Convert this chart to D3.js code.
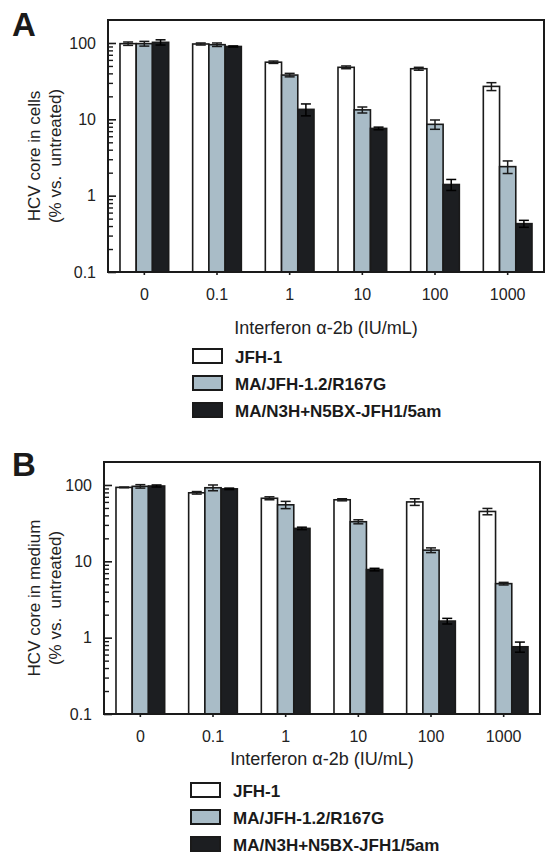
<!DOCTYPE html>
<html>
<head>
<meta charset="utf-8">
<script src="https://cdn.jsdelivr.net/npm/d3@7"></script>
<style>
  html, body { margin: 0; padding: 0; background: #fff; }
  svg { display: block; font-family: "Liberation Sans", Arial, Helvetica, sans-serif; }
</style>
</head>
<body>
<svg id="chart" width="547" height="856"></svg>
<script>
// ---------------- data ----------------
const categories = ["0", "0.1", "1", "10", "100", "1000"];
const seriesNames = ["JFH-1", "MA/JFH-1.2/R167G", "MA/N3H+N5BX-JFH1/5am"];
const yTickValues = [0.1, 1, 10, 100];
const xAxisTitle = "Interferon \u03B1-2b (IU/mL)";

// Panel A: HCV core in cells (% vs. untreated)
const cellsJFH1   = [98, 97, 56, 48, 46, 27];
const cellsR167G  = [98, 95, 38, 13.3, 8.6, 2.4];
const cells5am    = [102, 90, 13.5, 7.6, 1.4, 0.43];
const cellsErrJFH1  = [5, 3, 2, 2, 2, 3.2];
const cellsErrR167G = [7, 5, 2, 1.2, 1.2, 0.45];
const cellsErr5am   = [8, 1.5, 2.4, 0.3, 0.23, 0.045];

// Panel B: HCV core in medium (% vs. untreated)
const mediumJFH1   = [93, 79, 67, 64, 60, 45];
const mediumR167G  = [96, 92, 55, 33, 14, 5.1];
const medium5am    = [97, 89, 27, 7.8, 1.65, 0.76];
const mediumErrJFH1  = [1, 3, 3, 2, 6, 4.3];
const mediumErrR167G = [5, 8, 6, 2, 1, 0.2];
const mediumErr5am   = [3, 2, 1, 0.3, 0.14, 0.115];

const colors = ["#ffffff", "#a9bcc7", "#1c1e21"];

// ---------------- drawing ----------------
const svg = d3.select("#chart");

function drawPanel(opt) {
  const g = svg.append("g");
  const vals = [opt.v1, opt.v2, opt.v3];
  const errs = [opt.e1, opt.e2, opt.e3];

  const x0 = d3.scaleBand().domain(categories)
    .range([opt.left, opt.right]).paddingInner(0.33).paddingOuter(0.165);
  const x1 = d3.scaleBand().domain(seriesNames).range([0, x0.bandwidth()]);
  const y = d3.scaleLog().domain([0.1, 200]).range([opt.bottom, opt.top]);

  // bars
  seriesNames.forEach((s, si) => {
    const data = categories.map((c, ci) => ({c, v: vals[si][ci], e: errs[si][ci]}));
    g.selectAll(null).data(data).enter().append("rect")
      .attr("x", d => x0(d.c) + x1(s))
      .attr("y", d => y(d.v))
      .attr("width", x1.bandwidth())
      .attr("height", d => opt.bottom - y(d.v))
      .attr("fill", colors[si])
      .attr("stroke", "#1a1a1a")
      .attr("stroke-width", 1.6);
    // error bars
    const eg = g.selectAll(null).data(data).enter().append("g")
      .attr("stroke", si === 2 ? "#000" : "#1a1a1a")
      .attr("stroke-width", 1.5);
    const cx = d => x0(d.c) + x1(s) + x1.bandwidth() / 2;
    eg.append("line")
      .attr("x1", cx).attr("x2", cx)
      .attr("y1", d => y(Math.max(d.v - d.e, 0.1)))
      .attr("y2", d => y(d.v + d.e));
    eg.append("line")
      .attr("x1", d => cx(d) - 5).attr("x2", d => cx(d) + 5)
      .attr("y1", d => y(d.v + d.e)).attr("y2", d => y(d.v + d.e));
    eg.append("line")
      .attr("x1", d => cx(d) - 5).attr("x2", d => cx(d) + 5)
      .attr("y1", d => y(Math.max(d.v - d.e, 0.1))).attr("y2", d => y(Math.max(d.v - d.e, 0.1)));
  });

  // frame
  g.append("rect")
    .attr("x", opt.left).attr("y", opt.top)
    .attr("width", opt.right - opt.left).attr("height", opt.bottom - opt.top)
    .attr("fill", "none").attr("stroke", "#1a1a1a").attr("stroke-width", 2);

  // y axis major ticks (inward)
  const yAxis = d3.axisLeft(y).tickValues(yTickValues)
    .tickSizeInner(-8).tickSizeOuter(0).tickPadding(12)
    .tickFormat(d => d3.format("~g")(d));
  const ya = g.append("g").attr("transform", `translate(${opt.left},0)`).call(yAxis);
  ya.select(".domain").remove();
  ya.selectAll("line").attr("stroke", "#1a1a1a").attr("stroke-width", 1.6);
  ya.selectAll("text").attr("font-size", 16).attr("fill", "#222")
    .attr("font-family", '"Liberation Sans", Arial, sans-serif');

  // y axis minor ticks
  const minor = [];
  [0.1, 1, 10, 100].forEach(b => { for (let k = 2; k <= 9; k++) { if (b * k < 200) minor.push(b * k); } });
  const ym = g.append("g").attr("transform", `translate(${opt.left},0)`)
    .call(d3.axisLeft(y).tickValues(minor).tickSizeInner(-5).tickSizeOuter(0).tickFormat(""));
  ym.select(".domain").remove();
  ym.selectAll("line").attr("stroke", "#1a1a1a").attr("stroke-width", 1.4);

  // x axis ticks + labels
  const xAxis = d3.axisBottom(x0).tickSizeInner(3).tickSizeOuter(0).tickPadding(14);
  const xa = g.append("g").attr("transform", `translate(0,${opt.bottom})`).call(xAxis);
  xa.select(".domain").remove();
  xa.selectAll("line").attr("stroke", "#1a1a1a").attr("stroke-width", 1.6);
  xa.selectAll("text").attr("font-size", 16).attr("fill", "#222")
    .attr("font-family", '"Liberation Sans", Arial, sans-serif');

  // x title
  g.append("text")
    .attr("x", (opt.left + opt.right) / 2).attr("y", opt.xTitleY)
    .attr("text-anchor", "middle").attr("font-size", 18).attr("fill", "#222")
    .text(xAxisTitle);

  // y title (two lines)
  const cy = (opt.top + opt.bottom) / 2 + 10;
  g.append("text")
    .attr("transform", `translate(40,${cy}) rotate(-90)`)
    .attr("text-anchor", "middle").attr("font-size", 17).attr("fill", "#222")
    .text(opt.yTitle1);
  g.append("text")
    .attr("transform", `translate(61,${cy}) rotate(-90)`)
    .attr("text-anchor", "middle").attr("font-size", 17).attr("fill", "#222")
    .attr("xml:space", "preserve")
    .text(opt.yTitle2);

  // panel letter
  g.append("text")
    .attr("x", 12).attr("y", opt.letterY)
    .attr("font-size", 33).attr("font-weight", "bold").attr("fill", "#1a1a1a")
    .text(opt.letter);

  // legend
  const leg = g.append("g");
  seriesNames.forEach((s, i) => {
    const yy = opt.legendY + i * 27;
    leg.append("rect")
      .attr("x", opt.legendX).attr("y", yy)
      .attr("width", 29).attr("height", 14)
      .attr("fill", colors[i]).attr("stroke", "#1a1a1a").attr("stroke-width", 2);
    leg.append("text")
      .attr("x", opt.legendX + 42).attr("y", yy + 14)
      .attr("font-size", 17).attr("font-weight", "bold").attr("fill", "#1a1a1a")
      .text(s);
  });
}

drawPanel({
  letter: "A", letterY: 36,
  left: 108, right: 544, top: 20, bottom: 272,
  v1: cellsJFH1, v2: cellsR167G, v3: cells5am,
  e1: cellsErrJFH1, e2: cellsErrR167G, e3: cellsErr5am,
  yTitle1: "HCV core in cells", yTitle2: "(% vs.  untreated)",
  xTitleY: 334, legendX: 193, legendY: 349
});

drawPanel({
  letter: "B", letterY: 476,
  left: 104, right: 540, top: 462, bottom: 714,
  v1: mediumJFH1, v2: mediumR167G, v3: medium5am,
  e1: mediumErrJFH1, e2: mediumErrR167G, e3: mediumErr5am,
  yTitle1: "HCV core in medium", yTitle2: "(% vs.  untreated)",
  xTitleY: 765, legendX: 191, legendY: 783
});
</script>
</body>
</html>
